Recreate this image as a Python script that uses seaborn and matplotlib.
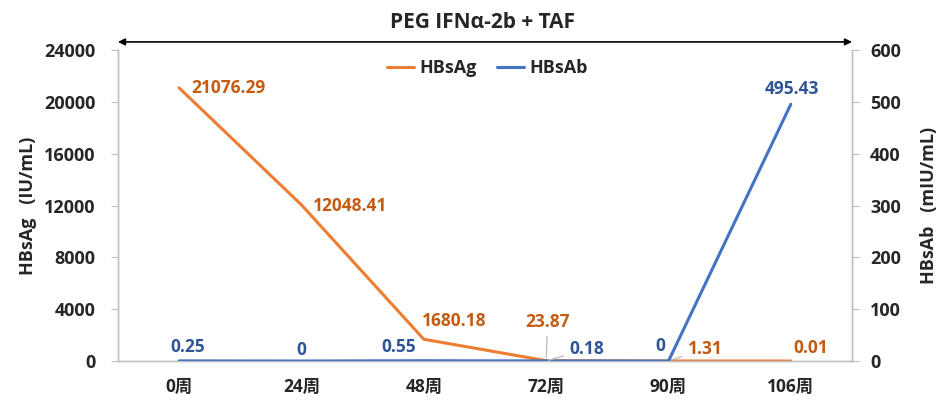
import pandas as pd
import matplotlib
matplotlib.use("Agg")
import matplotlib.pyplot as plt
import seaborn as sns
from matplotlib.lines import Line2D

# data
weeks = ["0周", "24周", "48周", "72周", "90周", "106周"]
hbsag = [21076.29, 12048.41, 1680.18, 23.87, 1.31, 0.01]
hbsab = [0.25, 0, 0.55, 0.18, 0, 495.43]
hbsag_labels = ["21076.29", "12048.41", "1680.18", "23.87", "1.31", "0.01"]
hbsab_labels = ["0.25", "0", "0.55", "0.18", "0", "495.43"]

ORANGE = "#ED7D31"
ORANGE_TXT = "#C55A11"
BLUE = "#4472C4"
BLUE_TXT = "#2F5597"
GRAY = "#BFBFBF"

sns.set_style("white")
plt.rcParams["font.family"] = ["Open Sans", "Noto Sans CJK SC", "DejaVu Sans"]
plt.rcParams["font.weight"] = "bold"

df = pd.DataFrame({"week": weeks, "HBsAg": hbsag, "HBsAb": hbsab})
df["pos"] = range(len(weeks))

fig = plt.figure(figsize=(9.49, 4.05), dpi=100)
ax = fig.add_axes([0.1243, 0.1086, 0.7735, 0.7679])
ax2 = ax.twinx()

sns.lineplot(data=df, x="pos", y="HBsAg", ax=ax, color=ORANGE, lw=2.2, zorder=3)
sns.lineplot(data=df, x="pos", y="HBsAb", ax=ax2, color=BLUE, lw=2.2, zorder=4)

ax.set_xlim(-0.5, len(weeks) - 0.5)
ax.set_ylim(0, 24000)
ax2.set_ylim(0, 600)
ax.set_yticks(range(0, 24001, 4000))
ax2.set_yticks(range(0, 601, 100))
ax.set_xticks(df["pos"])
ax.set_xticklabels(weeks, fontsize=12.5, fontweight="bold")
ax.set_xticks([i + 0.5 for i in range(len(weeks) - 1)], minor=True)
ax.tick_params(axis="x", which="major", length=0, pad=12)
ax.tick_params(axis="x", which="minor", length=5, color=GRAY, direction="in")
ax.tick_params(axis="y", length=5, color=GRAY, labelsize=13, pad=11)
ax2.tick_params(axis="y", length=5, color=GRAY, labelsize=13, pad=8)
for t in ax.get_yticklabels() + ax2.get_yticklabels():
    t.set_fontweight("bold")

ax.set_xlabel("")
ax.set_ylabel("HBsAg   (IU/mL)", fontsize=13, fontweight="bold", labelpad=5)
ax2.set_ylabel("HBsAb   (mIU/mL)", fontsize=13, fontweight="bold", labelpad=14)

for a in (ax, ax2):
    a.spines["top"].set_visible(False)
    for s in ("left", "right", "bottom"):
        a.spines[s].set_color(GRAY)
        a.spines[s].set_linewidth(1)

# data labels (offsets in points)
ag_off = [(8.5, 0, "left"), (8, -1, "left"), (-1, 13, "left"), (1, 28, "center"), (14, 9, "left"), (1.5, 9.5, "left")]
ab_off = [(6.5, 10, "center"), (0, 8, "center"), (-18, 10, "center"), (17, 8.5, "left"), (-6, 11, "center"), (1, 11, "center")]
leader = dict(arrowstyle="-", color=GRAY, lw=1)

for i, (v, lab) in enumerate(zip(hbsag, hbsag_labels)):
    dx, dy, ha = ag_off[i]
    ap = leader if i in (3, 4) else None
    ax.annotate(lab, (i, v), xytext=(dx, dy), textcoords="offset points",
                ha=ha, va="center", fontsize=12.5, fontweight="bold", color=ORANGE_TXT,
                arrowprops=ap, zorder=6)

for i, (v, lab) in enumerate(zip(hbsab, hbsab_labels)):
    dx, dy, ha = ab_off[i]
    ap = leader if i == 3 else None
    ax2.annotate(lab, (i, v), xytext=(dx, dy), textcoords="offset points",
                 ha=ha, va="center", fontsize=12.5, fontweight="bold", color=BLUE_TXT,
                 arrowprops=ap, zorder=6)

# legend
handles = [Line2D([], [], color=ORANGE, lw=2.2), Line2D([], [], color=BLUE, lw=2.2)]
ax2.legend(handles, ["HBsAg", "HBsAb"], loc="center", bbox_to_anchor=(0.503, 0.942),
           ncol=2, frameon=False, handlelength=1.5, handletextpad=0.3,
           columnspacing=1.1, prop={"weight": "bold", "size": 13})

# treatment arrow and title
ax.annotate("", xy=(1.0, 1.026), xytext=(0.0, 1.026), xycoords="axes fraction",
            arrowprops=dict(arrowstyle="<|-|>", color="black", lw=1.2,
                            mutation_scale=10, shrinkA=0, shrinkB=0),
            annotation_clip=False)
ax.text(0.497, 1.09, "PEG IFNα-2b + TAF", transform=ax.transAxes, ha="center",
        va="center", fontsize=15, fontweight="bold")

fig.savefig("out.png", dpi=100)
